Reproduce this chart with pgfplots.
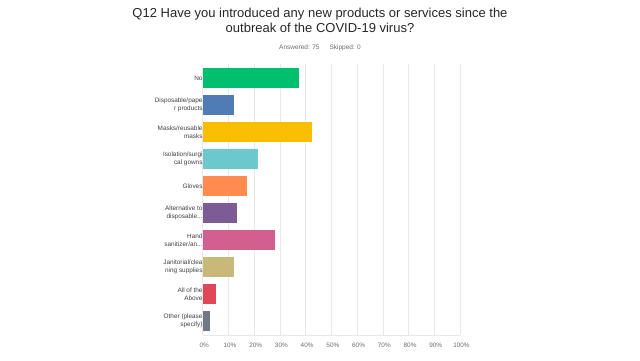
\documentclass[border=0pt]{standalone}
\usepackage{pgfplots}
\pgfplotsset{compat=1.18}
\usepackage{fontspec}
\setmainfont{Liberation Sans}
\definecolor{cNo}{HTML}{00BF6F}
\definecolor{cDisp}{HTML}{507CB6}
\definecolor{cMask}{HTML}{F9BE00}
\definecolor{cIso}{HTML}{6BC8CD}
\definecolor{cGlove}{HTML}{FF8B4F}
\definecolor{cAlt}{HTML}{7D5C96}
\definecolor{cHand}{HTML}{D25F90}
\definecolor{cJan}{HTML}{C8B97A}
\definecolor{cAll}{HTML}{E04858}
\definecolor{cOther}{HTML}{6F7A86}
\definecolor{gridc}{HTML}{E8E8E8}
\definecolor{tickc}{HTML}{6B6B6B}
\newcommand{\dd}{.\kern0pt.\kern0pt.}
\begin{document}
\begin{tikzpicture}
\path (0pt,0pt) rectangle (640pt,360pt);
\node[font=\fontsize{13}{15}\selectfont, align=center, text=black!85] at (320pt,340pt) {Q12 Have you introduced any new products or services since the\\outbreak of the COVID-19 virus?};
\node[font=\fontsize{6.5}{8}\selectfont, text=tickc] at (320pt,312pt) {Answered: 75\hspace{10pt}Skipped: 0};
\begin{axis}[
  at={(202.7pt,25pt)}, anchor=south west,
  scale only axis, width=257.3pt, height=271pt,
  xbar, bar width=19.3pt, bar shift=0pt,
  xmin=0, xmax=100,
  ymin=-0.52, ymax=9.52,
  y dir=reverse,
  ytick={0,1,2,3,4,5,6,7,8,9},
  yticklabels={No,{Disposable/pape\\r products},{Masks/reusable\\masks},{Isolation/surgi\\cal gowns},Gloves,{Alternative to\\disposable\dd},{Hand\\sanitizer/an\dd},{Janitorial/clea\\ning supplies},{All of the\\Above},{Other (please\\specify)}},
  yticklabel style={align=right, font=\fontsize{6.4}{8.5}\selectfont, text=black!75, inner sep=0pt, xshift=0pt},
  xtick={0,10,20,30,40,50,60,70,80,90,100},
  xticklabel={\pgfmathprintnumber{\tick}\%},
  xticklabel style={font=\fontsize{6.4}{8}\selectfont, text=tickc, yshift=-4.5pt, xshift=1.5pt},
  /pgf/number format/assume math mode=true,
  major tick length=0pt,
  xmajorgrids, major grid style={gridc, line width=0.5pt},
  axis line style={draw=none},
  axis x line*=bottom, x axis line style={draw=gridc},
  axis y line*=left, y axis line style={draw=none},
  every axis plot/.append style={draw=none},
  clip=false,
]
\addplot[fill=cNo] coordinates {(37.33,0)};
\addplot[fill=cDisp] coordinates {(12,1)};
\addplot[fill=cMask] coordinates {(42.67,2)};
\addplot[fill=cIso] coordinates {(21.33,3)};
\addplot[fill=cGlove] coordinates {(17.33,4)};
\addplot[fill=cAlt] coordinates {(13.33,5)};
\addplot[fill=cHand] coordinates {(28,6)};
\addplot[fill=cJan] coordinates {(12,7)};
\addplot[fill=cAll] coordinates {(5.33,8)};
\addplot[fill=cOther] coordinates {(2.67,9)};
\end{axis}
\end{tikzpicture}
\end{document}
